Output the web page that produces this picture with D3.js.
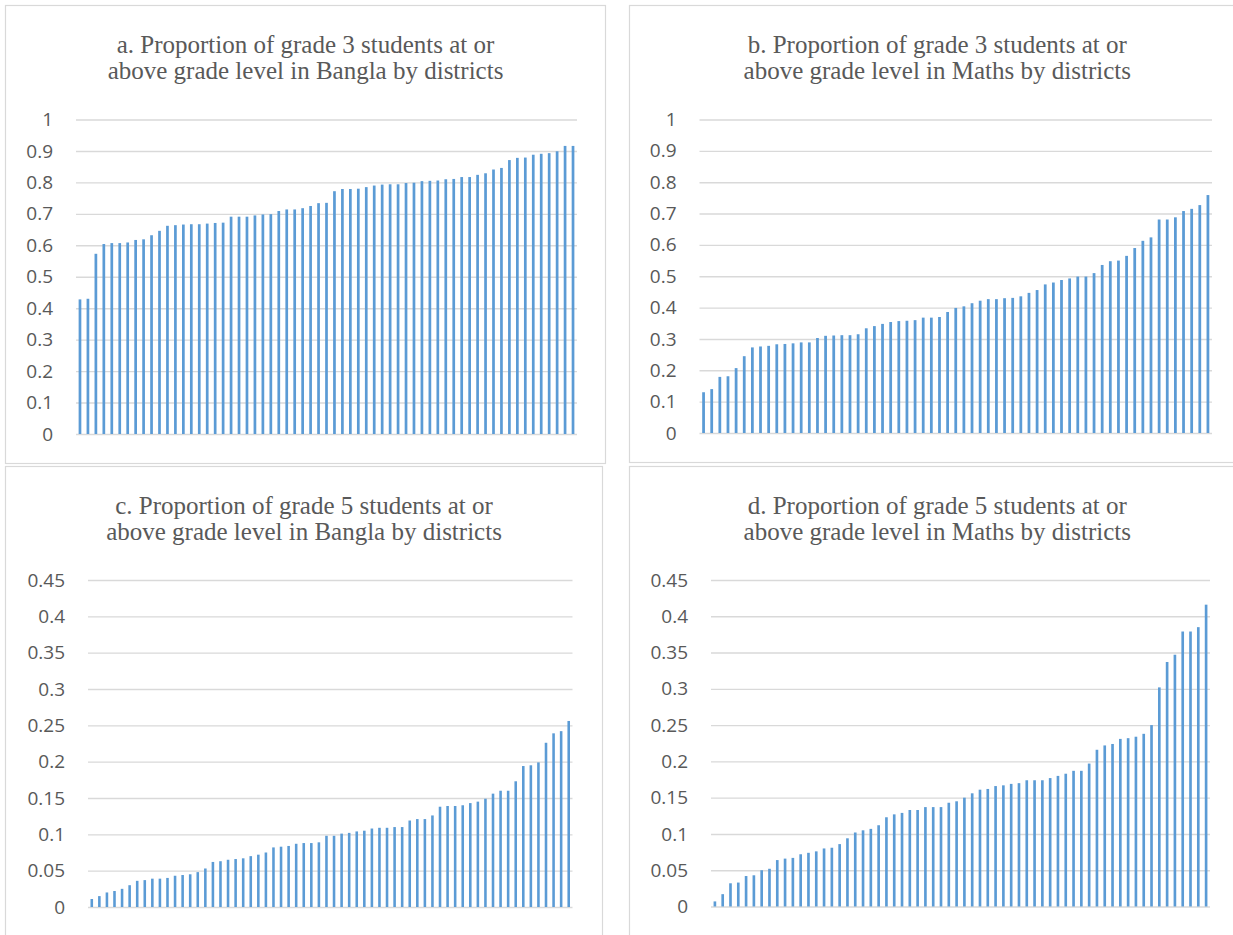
<!DOCTYPE html>
<html>
<head>
<meta charset="utf-8">
<script src="https://cdn.jsdelivr.net/npm/d3@7"></script>
<style>
  html, body { margin: 0; padding: 0; background: #fff; }
  svg { display: block; }
</style>
</head>
<body>
<svg id="chart" width="1233" height="935"></svg>
<script>
// District-level proportions, sorted ascending (one bar per district)
const grade3Bangla = [0.428, 0.430, 0.573, 0.604, 0.607, 0.607, 0.609, 0.617, 0.619, 0.632, 0.646, 0.662, 0.664, 0.666, 0.667, 0.667,
  0.669, 0.671, 0.672, 0.691, 0.691, 0.691, 0.695, 0.698, 0.699, 0.709, 0.714, 0.714, 0.718, 0.725, 0.734, 0.735,
  0.772, 0.779, 0.779, 0.780, 0.785, 0.790, 0.793, 0.794, 0.794, 0.798, 0.799, 0.804, 0.805, 0.806, 0.810, 0.811,
  0.817, 0.817, 0.824, 0.829, 0.841, 0.846, 0.871, 0.878, 0.879, 0.888, 0.891, 0.893, 0.899, 0.916, 0.916];

const grade3Maths = [0.130, 0.140, 0.179, 0.181, 0.207, 0.245, 0.273, 0.276, 0.278, 0.283, 0.284, 0.286, 0.289, 0.289, 0.303, 0.310,
  0.311, 0.312, 0.312, 0.315, 0.334, 0.341, 0.348, 0.354, 0.357, 0.358, 0.360, 0.368, 0.368, 0.370, 0.386, 0.399,
  0.404, 0.414, 0.422, 0.427, 0.427, 0.430, 0.431, 0.436, 0.447, 0.456, 0.474, 0.480, 0.488, 0.493, 0.499, 0.499,
  0.510, 0.536, 0.548, 0.550, 0.565, 0.590, 0.613, 0.624, 0.681, 0.681, 0.688, 0.708, 0.715, 0.727, 0.759];

const grade5Bangla = [0.011, 0.015, 0.020, 0.022, 0.025, 0.030, 0.036, 0.037, 0.039, 0.039, 0.040, 0.043, 0.044, 0.045, 0.048, 0.053,
  0.062, 0.063, 0.065, 0.066, 0.067, 0.070, 0.072, 0.075, 0.082, 0.083, 0.084, 0.087, 0.088, 0.088, 0.089, 0.098,
  0.098, 0.101, 0.102, 0.104, 0.105, 0.108, 0.109, 0.109, 0.110, 0.110, 0.119, 0.121, 0.121, 0.126, 0.138, 0.139,
  0.139, 0.140, 0.143, 0.145, 0.149, 0.156, 0.160, 0.160, 0.173, 0.194, 0.195, 0.199, 0.226, 0.239, 0.242, 0.256];

const grade5Maths = [0.007, 0.017, 0.032, 0.033, 0.042, 0.043, 0.050, 0.052, 0.064, 0.066, 0.067, 0.072, 0.074, 0.076, 0.080, 0.081,
  0.086, 0.094, 0.102, 0.105, 0.107, 0.112, 0.123, 0.127, 0.129, 0.133, 0.133, 0.137, 0.137, 0.137, 0.143, 0.145,
  0.150, 0.156, 0.161, 0.162, 0.166, 0.167, 0.169, 0.170, 0.174, 0.174, 0.174, 0.177, 0.180, 0.183, 0.187, 0.187,
  0.197, 0.216, 0.222, 0.224, 0.231, 0.232, 0.234, 0.238, 0.250, 0.302, 0.337, 0.347, 0.379, 0.379, 0.385, 0.416];

// Axis ticks
const grade3Ticks = [0, 0.1, 0.2, 0.3, 0.4, 0.5, 0.6, 0.7, 0.8, 0.9, 1];
const grade5Ticks = [0, 0.05, 0.1, 0.15, 0.2, 0.25, 0.3, 0.35, 0.4, 0.45];

// Panel titles
const titles = [
  ["a. Proportion of grade 3 students at or", "above grade level in Bangla by districts"],
  ["b. Proportion of grade 3 students at or", "above grade level in Maths by districts"],
  ["c. Proportion of grade 5 students at or", "above grade level in Bangla by districts"],
  ["d. Proportion of grade 5 students at or", "above grade level in Maths by districts"]
];

const svg = d3.select("#chart");

// Layout of the four panels: frame box and plot-area bounds
const panels = [
  { values: grade3Bangla, ticks: grade3Ticks, title: titles[0],
    box: [5.5, 5.5, 605.5, 463.5], plot: { x0: 76, x1: 577, yTop: 119.5, yBot: 434 } },
  { values: grade3Maths, ticks: grade3Ticks, title: titles[1],
    box: [629.5, 5.5, 1245, 462.5], plot: { x0: 699.5, x1: 1212, yTop: 119.5, yBot: 433 } },
  { values: grade5Bangla, ticks: grade5Ticks, title: titles[2],
    box: [5.5, 466.5, 602.5, 945], plot: { x0: 88, x1: 572.5, yTop: 580, yBot: 907 } },
  { values: grade5Maths, ticks: grade5Ticks, title: titles[3],
    box: [629.5, 466.5, 1245, 945], plot: { x0: 711, x1: 1210, yTop: 580, yBot: 906.5 } }
];

panels.forEach(p => {
  const g = svg.append("g");
  const [bx0, by0, bx1, by1] = p.box;

  // frame
  g.append("rect")
    .attr("x", bx0).attr("y", by0)
    .attr("width", bx1 - bx0).attr("height", by1 - by0)
    .attr("fill", "#fff")
    .attr("stroke", "#d9d9d9").attr("stroke-width", 1.2);

  // title
  const cx = (bx0 + bx1) / 2;
  const title = g.append("text")
    .attr("x", cx).attr("y", by0 + 47)
    .attr("text-anchor", "middle")
    .attr("font-family", "'Liberation Serif', 'Times New Roman', serif")
    .attr("font-size", 25)
    .attr("fill", "#595959");
  title.append("tspan").attr("x", cx).text(p.title[0]);
  title.append("tspan").attr("x", cx).attr("dy", 26).text(p.title[1]);

  const { x0, x1, yTop, yBot } = p.plot;
  const y = d3.scaleLinear()
    .domain([0, d3.max(p.ticks)])
    .range([yBot, yTop]);
  const x = d3.scaleBand()
    .domain(d3.range(p.values.length))
    .range([x0, x1])
    .paddingInner(0.66)
    .paddingOuter(0.33);

  // gridlines + tick labels via d3 axis
  const axis = d3.axisLeft(y)
    .tickValues(p.ticks)
    .tickSize(-(x1 - x0))
    .tickPadding(23)
    .tickFormat(d => d3.format("~g")(+d.toFixed(2)));

  const ax = g.append("g")
    .attr("transform", `translate(${x0},0)`)
    .call(axis);
  ax.select(".domain").remove();
  ax.selectAll(".tick line")
    .attr("stroke", "#d9d9d9")
    .attr("stroke-width", 1.4);
  ax.selectAll(".tick text")
    .attr("font-family", "'Open Sans', 'Liberation Sans', sans-serif")
    .attr("font-size", 19)
    .attr("fill", "#595959");

  // bars
  g.append("g")
    .selectAll("rect")
    .data(p.values)
    .join("rect")
    .attr("x", (d, i) => x(i))
    .attr("width", x.bandwidth())
    .attr("y", d => y(d))
    .attr("height", d => y(0) - y(d))
    .attr("fill", "#5b9bd5");
});
</script>
</body>
</html>
